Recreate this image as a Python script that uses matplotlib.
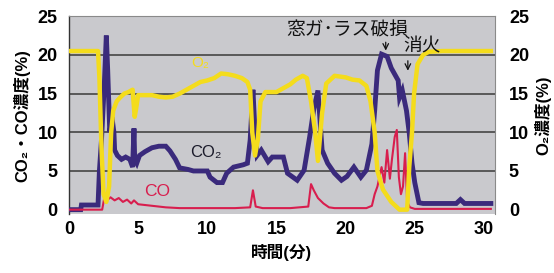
import matplotlib
matplotlib.use("Agg")
import matplotlib.pyplot as plt

plt.rcParams['font.family'] = ['Liberation Sans', 'Noto Sans CJK JP', 'DejaVu Sans']

# ---------- DATA ----------
o2_t = [0, 2.1, 2.2, 2.35, 2.5, 2.7, 2.9, 3.05, 3.2, 3.45, 3.7, 4.0, 4.3, 4.6, 4.75, 4.85,
        5.0, 5.5, 6.0, 6.5, 7.0, 7.5, 8.0, 8.5, 9.0, 9.5, 10.0, 10.5, 11.0, 11.5, 12.0, 12.5,
        12.9, 13.1, 13.25, 13.45, 13.65, 13.85, 14.2, 14.7, 15.0, 15.6, 16.0, 16.4, 16.9, 17.2,
        17.5, 17.8, 18.0, 18.3, 18.6, 19.2, 20.0, 20.5, 21.0, 21.5, 21.8, 22.1, 22.3, 22.7,
        23.3, 23.9, 24.45, 24.6, 24.8, 24.95, 25.2, 25.6, 26.0, 27.0, 30.5]
o2 = [20.5, 20.5, 17.0, 8.0, 2.0, 1.0, 3.0, 10.0, 12.8, 14.0, 14.5, 15.0, 15.2, 15.5, 12.0, 13.0,
      14.8, 14.8, 14.8, 14.6, 14.5, 14.6, 15.0, 15.5, 16.0, 16.5, 16.7, 17.0, 17.6, 17.5, 17.3, 17.0,
      16.5, 15.5, 10.0, 7.0, 9.0, 14.0, 15.2, 15.2, 15.2, 15.8, 16.2, 16.8, 17.3, 17.0,
      14.0, 10.0, 6.3, 12.5, 16.3, 17.3, 17.1, 16.8, 16.7, 16.0, 14.0, 10.0, 5.0, 2.6,
      1.0, 0.0, 0.0, 5.5, 10.0, 15.0, 18.8, 20.0, 20.4, 20.5, 20.5]

co2_t = [0, 0.85, 0.9, 2.1, 2.2, 2.35, 2.55, 2.7, 2.8, 2.95, 3.1, 3.25, 3.3, 3.5, 3.8, 4.1,
         4.4, 4.6, 4.7, 4.75, 4.9, 5.1, 5.5, 6.0, 6.5, 7.0, 7.3, 7.7, 8.0, 8.6, 9.0, 9.5,
         10.0, 10.2, 10.7, 11.1, 11.4, 11.9, 12.6, 12.9, 13.1, 13.3, 13.45, 13.6, 13.9, 14.4,
         14.7, 15.5, 15.8, 16.5, 17.0, 17.4, 17.7, 18.0, 18.3, 18.7, 19.2, 19.7, 20.1, 20.6,
         21.1, 21.5, 21.9, 22.1, 22.3, 22.6, 23.0, 23.3, 23.8, 23.9, 24.1, 24.4, 24.6, 24.8,
         25.0, 25.3, 25.6, 26.0, 28.0, 28.3, 28.6, 30.5]
co2 = [0.0, 0.0, 0.6, 0.6, 5.0, 9.0, 16.0, 22.5, 18.0, 10.0, 12.0, 10.0, 7.7, 7.0, 6.5, 6.8,
       6.5, 5.5, 10.5, 6.5, 6.0, 7.0, 7.5, 8.0, 8.2, 8.2, 7.6, 6.5, 5.4, 5.2, 5.0, 5.0,
       5.0, 4.2, 3.5, 3.5, 4.7, 5.5, 5.8, 6.0, 9.0, 15.5, 10.0, 7.0, 7.7, 6.2,
       6.8, 6.8, 4.7, 3.8, 5.1, 9.4, 13.0, 15.4, 7.7, 6.0, 4.7, 3.8, 4.3, 5.5,
       4.2, 5.1, 8.5, 12.8, 18.0, 20.1, 19.8, 18.3, 16.7, 14.5, 15.4, 12.8, 9.9, 6.0,
       3.5, 0.9, 0.8, 0.8, 0.8, 1.3, 0.8, 0.8]

co_t = [0, 2.4, 2.55, 2.65, 2.8, 3.0, 3.3, 3.6, 3.9, 4.2, 4.5, 4.7, 5.0, 5.5, 6.0, 6.5, 7.0,
        8.0, 10.0, 12.0, 13.1, 13.3, 13.5, 14.0, 16.0, 17.3, 17.5, 17.7, 18.0, 18.4, 18.8, 19.2,
        21.5, 21.9, 22.1, 22.3, 22.6, 22.8, 23.0, 23.2, 23.35, 23.55, 23.7, 23.85, 24.0, 24.15,
        24.3, 24.45, 24.65, 25.0, 30.5]
co = [0.0, 0.0, 1.5, 2.0, 1.3, 1.6, 1.2, 1.5, 1.0, 1.3, 0.8, 1.2, 0.7, 0.6, 0.5, 0.4, 0.3,
      0.2, 0.2, 0.2, 0.3, 2.5, 0.4, 0.2, 0.2, 0.4, 3.3, 2.5, 1.5, 0.8, 0.3, 0.2,
      0.2, 0.5, 2.0, 3.0, 5.5, 3.5, 7.7, 4.0, 6.5, 9.4, 10.3, 4.2, 2.0, 3.0,
      7.3, 1.0, 0.3, 0.1, 0.1]

x_ticks = [0, 5, 10, 15, 20, 25, 30]
y_ticks = [0, 5, 10, 15, 20, 25]

# ---------- STYLE ----------
BG = "#c9c9cd"
YELLOW = "#f4dc1c"
PURPLE = "#3a2a7c"
RED = "#d81e4e"

fig = plt.figure(figsize=(5.54, 2.73), dpi=100)
ax = fig.add_axes([0.1245, 0.215, 0.769, 0.727])
ax.set_facecolor(BG)

for y in [5, 10, 15, 20]:
    ax.axhline(y, color="#454545", lw=1.2, zorder=1)

ax.plot(co2_t, co2, color=PURPLE, lw=3.5, zorder=3, solid_joinstyle="miter")
ax.plot(co_t, co, color=RED, lw=1.5, zorder=4)

ax.set_xlim(0, 30.8)
ax.set_ylim(-0.6, 25.05)
ax.set_xticks(x_ticks)
ax.set_yticks(y_ticks)
ax.tick_params(length=0, labelsize=13)
ax.tick_params(axis="y", pad=8)
ax.tick_params(axis="x", pad=5)
for lab in ax.get_xticklabels() + ax.get_yticklabels():
    lab.set_fontweight("bold")

for s in ["top", "right", "bottom"]:
    ax.spines[s].set_color("#8a8a8a")
    ax.spines[s].set_linewidth(0.8)
ax.spines["bottom"].set_visible(False)
ax.spines["left"].set_color("#333333")
ax.spines["left"].set_linewidth(1.0)

ax.set_ylabel("CO₂・CO濃度(%)", fontsize=12, fontweight="bold", labelpad=5)
ax.set_xlabel("時間(分)", fontsize=12, fontweight="bold", labelpad=4)

ax2 = ax.twinx()
ax2.plot(o2_t, o2, color=YELLOW, lw=3.2, zorder=5)
ax2.set_ylim(-0.6, 25.05)
ax2.set_yticks(y_ticks)
ax2.tick_params(length=0, labelsize=13, pad=10)
for lab in ax2.get_yticklabels():
    lab.set_fontweight("bold")
for s in ["top", "right", "bottom", "left"]:
    ax2.spines[s].set_visible(False)
ax2.set_ylabel("O₂濃度(%)", fontsize=12, fontweight="bold", labelpad=4)

# series labels
ax2.text(9.5, 18.9, "O₂", color=YELLOW, fontsize=11, ha="center", va="center")
ax.text(9.9, 7.4, "CO₂", color="#1a1a2a", fontsize=12, ha="center", va="center")
ax.text(6.4, 2.3, "CO", color=RED, fontsize=12.5, ha="center", va="center")

# event annotations
ax2.text(20.1, 23.1, "窓ガ･ラス破損", fontsize=13.5, ha="center", va="center",
         color="#111111", zorder=6)
ax2.annotate("", xy=(22.9, 20.2), xytext=(22.9, 22.0),
             arrowprops=dict(arrowstyle="->", color="#111111", lw=0.9))
ax2.text(25.5, 21.0, "消火", fontsize=13.5, ha="center", va="center",
         color="#111111", zorder=6)
ax2.annotate("", xy=(24.5, 17.6), xytext=(24.5, 19.6),
             arrowprops=dict(arrowstyle="->", color="#111111", lw=0.9))

fig.savefig("out.png", dpi=100)
